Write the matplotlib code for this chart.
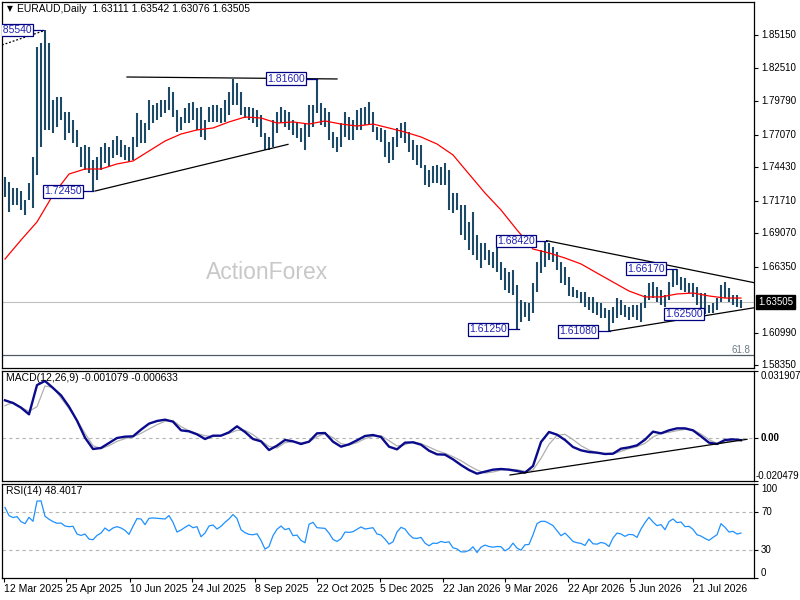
import numpy as np
import matplotlib
matplotlib.use("Agg")
import matplotlib.pyplot as plt
from matplotlib.transforms import blended_transform_factory as blend

plt.rcParams['font.family'] = ['Liberation Sans', 'DejaVu Sans']

# ---- data (one bar = two trading days) ----
symbol = "EURAUD,Daily"
ohlc_last = [1.63111, 1.63542, 1.63076, 1.63505]

bar_high = [
    1.7362, 1.7321, 1.7273, 1.7273, 1.7248, 1.7175, 1.7313, 1.7524, 1.8418, 1.8450,
    1.8554, 1.8450, 1.7987, 1.8012, 1.8012, 1.7890, 1.7890, 1.7825, 1.7744, 1.7606,
    1.7622, 1.7606, 1.7500, 1.7524, 1.7606, 1.7638, 1.7606, 1.7662, 1.7695, 1.7662,
    1.7622, 1.7606, 1.7687, 1.7882, 1.7825, 1.7800, 1.7987, 1.7947, 1.7963, 1.7987,
    1.7987, 1.8093, 1.8052, 1.7906, 1.7849, 1.7922, 1.7963, 1.7971, 1.7922, 1.7930,
    1.7825, 1.7930, 1.7947, 1.7947, 1.7922, 1.7987, 1.8052, 1.8160, 1.8125, 1.8052,
    1.7930, 1.7930, 1.7922, 1.7906, 1.7865, 1.7719, 1.7687, 1.7825, 1.7890, 1.7930,
    1.7906, 1.7890, 1.7825, 1.7800, 1.7760, 1.7800, 1.7947, 1.7947, 1.8160, 1.7963,
    1.7922, 1.7890, 1.7727, 1.7687, 1.7800, 1.7890, 1.7849, 1.7825, 1.7906, 1.7922,
    1.7930, 1.7971, 1.7890, 1.7768, 1.7760, 1.7744, 1.7646, 1.7687, 1.7760, 1.7800,
    1.7809, 1.7727, 1.7662, 1.7622, 1.7622, 1.7459, 1.7419, 1.7451, 1.7459, 1.7443,
    1.7476, 1.7419, 1.7232, 1.7232, 1.7135, 1.7135, 1.6997, 1.7078, 1.6891, 1.6826,
    1.6826, 1.6769, 1.6753, 1.6785, 1.6672, 1.6623, 1.6591, 1.6607, 1.6485, 1.6363,
    1.6347, 1.6339, 1.6501, 1.6672, 1.6769, 1.6842, 1.6826, 1.6794, 1.6753, 1.6672,
    1.6631, 1.6550, 1.6469, 1.6444, 1.6428, 1.6428, 1.6388, 1.6388, 1.6347, 1.6339,
    1.6298, 1.6282, 1.6306, 1.6379, 1.6363, 1.6323, 1.6306, 1.6323, 1.6323, 1.6339,
    1.6404, 1.6501, 1.6509, 1.6469, 1.6444, 1.6404, 1.6509, 1.6607, 1.6617, 1.6550,
    1.6542, 1.6501, 1.6501, 1.6469, 1.6420, 1.6420, 1.6323, 1.6339, 1.6379, 1.6485,
    1.6509, 1.6461, 1.6404, 1.6404, 1.6363,
]
bar_low = [
    1.7200, 1.7078, 1.7135, 1.7135, 1.7094, 1.7053, 1.7175, 1.7110, 1.7378, 1.7606,
    1.7744, 1.7744, 1.7719, 1.7768, 1.7825, 1.7662, 1.7719, 1.7638, 1.7606, 1.7443,
    1.7419, 1.7394, 1.7245, 1.7338, 1.7419, 1.7476, 1.7443, 1.7516, 1.7541, 1.7524,
    1.7500, 1.7484, 1.7500, 1.7606, 1.7638, 1.7638, 1.7744, 1.7800, 1.7825, 1.7849,
    1.7882, 1.7906, 1.7849, 1.7727, 1.7744, 1.7800, 1.7800, 1.7825, 1.7744, 1.7687,
    1.7662, 1.7809, 1.7809, 1.7809, 1.7800, 1.7809, 1.7865, 1.7947, 1.7947, 1.7865,
    1.7841, 1.7825, 1.7800, 1.7768, 1.7687, 1.7581, 1.7581, 1.7606, 1.7719, 1.7800,
    1.7768, 1.7744, 1.7703, 1.7679, 1.7646, 1.7581, 1.7687, 1.7768, 1.7882, 1.7784,
    1.7768, 1.7662, 1.7597, 1.7565, 1.7606, 1.7687, 1.7662, 1.7662, 1.7744, 1.7744,
    1.7784, 1.7784, 1.7727, 1.7662, 1.7646, 1.7524, 1.7476, 1.7500, 1.7606, 1.7679,
    1.7638, 1.7565, 1.7500, 1.7459, 1.7435, 1.7297, 1.7281, 1.7313, 1.7313, 1.7297,
    1.7297, 1.7094, 1.7070, 1.7094, 1.6891, 1.6850, 1.6769, 1.6729, 1.6688, 1.6623,
    1.6688, 1.6647, 1.6623, 1.6591, 1.6526, 1.6444, 1.6420, 1.6404, 1.6125, 1.6185,
    1.6225, 1.6193, 1.6258, 1.6428, 1.6582, 1.6631, 1.6688, 1.6672, 1.6607, 1.6501,
    1.6485, 1.6396, 1.6388, 1.6379, 1.6339, 1.6306, 1.6282, 1.6258, 1.6241, 1.6217,
    1.6217, 1.6108, 1.6176, 1.6217, 1.6241, 1.6225, 1.6201, 1.6225, 1.6201, 1.6185,
    1.6298, 1.6363, 1.6379, 1.6347, 1.6323, 1.6306, 1.6363, 1.6469, 1.6485, 1.6444,
    1.6428, 1.6420, 1.6388, 1.6323, 1.6298, 1.6250, 1.6258, 1.6258, 1.6282, 1.6347,
    1.6379, 1.6347, 1.6323, 1.6306, 1.6298,
]
# moving average, one value every 4 bars
ma_line = [
    1.6696, 1.6850, 1.6997, 1.7216, 1.7386, 1.7427, 1.7427, 1.7468, 1.7492, 1.7573,
    1.7654, 1.7711, 1.7744, 1.7760, 1.7809, 1.7849, 1.7841, 1.7800, 1.7809, 1.7792,
    1.7817, 1.7792, 1.7776, 1.7792, 1.7760, 1.7727, 1.7687, 1.7630, 1.7541, 1.7386,
    1.7232, 1.7094, 1.6932, 1.6777, 1.6745, 1.6704, 1.6656, 1.6582, 1.6509, 1.6436,
    1.6388, 1.6388, 1.6412, 1.6420, 1.6396, 1.6379, 1.6379,
]
# MACD(12,26,9), one value every 2 bars, in units of 1e-3
macd_main = np.array([
    17.94, 16.67, 14.45, 11.27, 25.20, 27.15, 23.81, 20.32, 14.92, 8.26,
    0.16, -5.24, -4.76, -2.38, 0.00, 0.64, 0.79, 3.97, 6.83, 8.10,
    8.73, 7.78, 3.65, 3.18, 1.75, -0.48, 1.11, 1.11, 2.70, 5.56,
    2.86, -0.48, -1.59, -5.72, -3.65, -0.95, -1.59, -2.86, -1.75, 2.22,
    2.38, -1.75, -4.13, -3.02, -1.11, 0.95, 1.43, 0.48, -4.13, -5.40,
    -2.22, -2.06, -3.18, -6.03, -7.78, -7.94, -10.16, -12.86, -15.24, -16.99,
    -16.03, -15.08, -14.76, -15.08, -15.72, -16.51, -13.34, -1.91, 2.86, 1.59,
    -0.95, -4.29, -5.87, -6.67, -6.99, -7.62, -7.46, -5.08, -4.45, -3.49,
    -0.79, 3.02, 2.22, 3.65, 4.60, 4.60, 3.65, 0.79, -2.22, -2.86,
    -0.95, -0.64, -1.08,
]) / 1000
macd_signal = np.array([
    15.40, 16.99, 14.61, 12.70, 14.92, 24.77, 24.13, 19.05, 13.97, 8.57,
    2.22, -3.65, -5.08, -3.65, -1.59, -0.32, 0.64, 2.22, 4.29, 6.35,
    7.94, 8.26, 5.40, 3.49, 2.06, 1.11, 0.64, 1.11, 2.22, 3.65,
    3.65, 1.59, -1.27, -3.97, -4.76, -2.22, -1.75, -2.22, -1.91, 0.64,
    2.06, 0.16, -2.70, -3.33, -2.22, -0.32, 0.79, 1.11, -1.27, -3.81,
    -3.18, -1.75, -2.70, -4.29, -6.03, -7.30, -8.89, -10.80, -13.18, -15.24,
    -16.67, -16.19, -15.24, -14.92, -15.08, -15.88, -15.24, -9.68, -3.02, 1.27,
    1.75, -0.79, -3.65, -5.72, -6.99, -7.62, -7.62, -6.35, -5.08, -4.13,
    -2.54, 0.48, 2.22, 2.70, 3.49, 4.13, 3.81, 1.91, -0.79, -2.54,
    -2.06, -0.95, -0.63,
]) / 1000
macd_range = (-0.020479, 0.031907)
macd_now = (-0.001079, -0.000633)

rsi_line = [
    75.0, 66.4, 64.3, 65.3, 60.0, 57.8, 64.6, 60.3, 81.8, 82.1,
    65.7, 62.5, 60.0, 58.2, 58.5, 55.3, 54.6, 55.0, 46.8, 45.3,
    46.8, 41.4, 40.7, 45.3, 47.8, 53.2, 50.0, 53.2, 54.6, 53.2,
    50.7, 46.4, 55.0, 63.2, 62.8, 56.8, 63.5, 63.9, 63.5, 63.2,
    62.8, 66.4, 59.3, 48.9, 51.0, 53.9, 56.4, 53.5, 54.6, 43.9,
    47.8, 55.3, 56.4, 52.1, 55.0, 59.3, 62.8, 67.5, 63.2, 51.4,
    48.2, 46.4, 46.0, 47.1, 40.0, 30.7, 33.5, 45.0, 51.8, 55.3,
    51.4, 52.8, 45.0, 45.7, 40.0, 37.5, 57.1, 59.3, 53.5, 53.2,
    52.8, 47.8, 41.0, 38.9, 41.8, 48.9, 48.5, 49.3, 51.8, 54.3,
    52.1, 52.8, 53.5, 46.8, 45.7, 41.4, 36.0, 38.5, 48.9, 53.9,
    52.1, 46.4, 42.5, 42.1, 43.2, 37.1, 34.3, 37.1, 36.8, 38.9,
    37.8, 38.5, 32.1, 31.0, 27.8, 27.8, 29.3, 33.2, 27.1, 32.8,
    35.0, 33.5, 32.8, 33.5, 33.2, 28.9, 31.4, 37.1, 31.8, 29.6,
    35.3, 35.7, 46.0, 57.8, 60.3, 60.3, 58.2, 55.7, 50.3, 45.0,
    47.8, 43.5, 38.9, 37.5, 36.8, 34.6, 41.4, 36.4, 36.0, 37.8,
    36.8, 33.5, 42.5, 47.8, 46.8, 44.3, 46.4, 46.0, 43.2, 52.1,
    58.9, 64.6, 59.6, 55.7, 56.8, 51.4, 60.0, 62.8, 58.9, 59.6,
    54.6, 55.0, 51.8, 46.0, 44.6, 42.1, 40.0, 43.2, 46.0, 57.8,
    53.9, 48.9, 49.6, 46.8, 47.8,
]
rsi_now = 48.4017

price_ticks = [1.85150, 1.82510, 1.79790, 1.77070, 1.74430, 1.71710,
               1.69070, 1.66350, 1.60990, 1.58350]
date_labels = ['12 Mar 2025', '25 Apr 2025', '10 Jun 2025', '24 Jul 2025',
               '8 Sep 2025', '22 Oct 2025', '5 Dec 2025', '22 Jan 2026',
               '9 Mar 2026', '22 Apr 2026', '5 Jun 2026', '21 Jul 2026']
date_bars = [-0.25, 15.25, 31.25, 46.75, 62.5, 78.0, 93.75, 109.5,
             125.0, 140.75, 156.25, 171.9]

# swing labels: level and the bar where it was set
swing_levels = [1.85540, 1.72450, 1.81600, 1.68420, 1.61250, 1.61080, 1.66170, 1.62500]
swing_bars = [9.5, 22.0, 78.0, 135.5, 128.5, 151.25, 167.75, 175.0]
swing_gap = [2.3, 2.3, 2.5, 2.5, 2.5, 2.75, 2.3, 0.1]

# drawn lines (bar0, price0, bar1, price1)
trend_lines = [
    (22.5, 1.7248, 70.75, 1.7627),
    (30.5, 1.8174, 83.0, 1.8158),
    (135.4, 1.6845, 187.25, 1.6504),
    (151.25, 1.6111, 187.25, 1.6300),
]
dotted_line = (-0.75, 1.8434, 9.5, 1.8547)
macd_trend = (126.25, -0.01762, 185.5, -0.00062)
fib_level = 1.5917

# ---- figure ----
W, H = 800, 600
fig = plt.figure(figsize=(8, 6), dpi=100)
fig.patch.set_facecolor('white')

def panel(top, bottom):
    return fig.add_axes([2 / W, 1 - bottom / H, 752 / W, (bottom - top) / H])

ax = panel(2, 368)
ax_m = panel(371, 481)
ax_r = panel(484, 578)

xlim = (-0.75, 187.25)
for a in (ax, ax_m, ax_r):
    a.set_xlim(*xlim)
    for s in a.spines.values():
        s.set_linewidth(0.9)
        s.set_color('black')
    a.yaxis.tick_right()
    a.tick_params(axis='y', length=3, width=0.8, labelright=False, labelleft=False)
    a.tick_params(axis='x', length=0, labelbottom=False)

lab_font = 7
right_x = 1 + 7 / 752

# price panel
ax.set_ylim(1.58110, 1.87830)
ax.set_yticks(price_ticks)
tr = blend(ax.transAxes, ax.transData)
for v in price_ticks:
    ax.text(right_x, v, f"{v:.5f}", transform=tr, va='center', ha='left',
            fontsize=lab_font, clip_on=False)

ax.text(0.352, 0.26, 'ActionForex', transform=ax.transAxes, ha='center', va='center',
        fontsize=16.5, color='#c8c8c8', zorder=0)

ax.axhline(ohlc_last[3], color='#c0c0c0', lw=0.8, zorder=1)
ax.axhline(fib_level, color='#4f5b66', lw=0.9, zorder=1)
ax.text(0.995, fib_level, '61.8', transform=tr, ha='right', va='bottom',
        fontsize=7, color='#6b7b86')

x_bars = np.arange(len(bar_high))
ax.vlines(x_bars, bar_low, bar_high, color='#1c4966', lw=1.5, zorder=2)
ax.plot(np.arange(len(ma_line)) * 4, ma_line, color='#ff0000', lw=0.9, zorder=3)

for x0, y0, x1, y1 in trend_lines:
    ax.plot([x0, x1], [y0, y1], color='black', lw=0.9, zorder=4)
ax.plot(dotted_line[::2], dotted_line[1::2], color='black', lw=0.9, ls=(0, (1.5, 1.5)), zorder=4)

for lvl, b, gap in zip(swing_levels, swing_bars, swing_gap):
    right = b - gap
    if gap > 0.5:
        ax.plot([right, b], [lvl, lvl], color='#000080', lw=0.9, zorder=5)
    ax.text(right - 0.45, lvl, f"{lvl:.5f}", ha='right', va='center', fontsize=7.5,
            color='#2222b4', zorder=6, clip_on=True,
            bbox=dict(boxstyle='square,pad=0.12', fc='white', ec='#000080', lw=0.9))

ax.text(right_x - 0.004, ohlc_last[3], f"{ohlc_last[3]:.5f}", transform=tr,
        ha='left', va='center', fontsize=lab_font, color='white', clip_on=False,
        bbox=dict(boxstyle='square,pad=0.2', fc='black', ec='black'))

fig.text(7 / W, 1 - 9 / H, '\u25bc', fontsize=5.5, va='center', ha='left',
         family=['DejaVu Sans'])
fig.text(17 / W, 1 - 9 / H,
         f"{symbol}  " + " ".join(f"{v:.5f}" for v in ohlc_last),
         fontsize=7.5, va='center', ha='left')

# MACD panel
ax_m.set_ylim(*macd_range)
ax_m.set_yticks([macd_range[1], 0, macd_range[0]])
ax_m.axhline(0, color='#b4b4b4', lw=0.8, ls=(0, (3, 3)))
x_m = np.arange(len(macd_main)) * 2
ax_m.plot(x_m, macd_signal, color='#b0b0b0', lw=0.9)
ax_m.plot(x_m, macd_main, color='#0a0a8c', lw=1.7)
ax_m.plot(macd_trend[::2], macd_trend[1::2], color='black', lw=0.9)
ax_m.text(4 / 752, 1 - 7 / 110, f"MACD(12,26,9) {macd_now[0]:.6f} {macd_now[1]:.6f}",
          transform=ax_m.transAxes, fontsize=7.5, va='center', ha='left')
trm = blend(ax_m.transAxes, ax_m.transData)
ax_m.text(right_x, macd_range[1], f"{macd_range[1]:.6f}", transform=trm,
          va='top', ha='left', fontsize=lab_font, clip_on=False)
ax_m.text(right_x, 0, "0.00", transform=trm, va='center', ha='left',
          fontsize=lab_font, fontweight='bold', clip_on=False)
ax_m.text(right_x - 5 / 752, macd_range[0], f"{macd_range[0]:.6f}", transform=trm,
          va='bottom', ha='left', fontsize=lab_font, clip_on=False)

# RSI panel
ax_r.set_ylim(0, 100)
ax_r.set_yticks([100, 70, 30, 0])
for lvl in (70, 30):
    ax_r.axhline(lvl, color='#b4b4b4', lw=0.8, ls=(0, (3, 3)))
ax_r.plot(np.arange(len(rsi_line)), rsi_line, color='#1e90ff', lw=0.9)
ax_r.text(4 / 752, 1 - 7 / 94, f"RSI(14) {rsi_now:.4f}", transform=ax_r.transAxes,
          fontsize=7.5, va='center', ha='left')
trr = blend(ax_r.transAxes, ax_r.transData)
for v, va in ((100, 'top'), (70, 'center'), (30, 'center'), (0, 'bottom')):
    ax_r.text(right_x, v, str(v), transform=trr, va=va, ha='left',
              fontsize=lab_font, clip_on=False)

ax_r.set_xticks(date_bars)
ax_r.tick_params(axis='x', length=3, width=0.8, direction='out')
trd = blend(ax_r.transData, ax_r.transAxes)
for b, lab in zip(date_bars, date_labels):
    ax_r.text(b, -11 / 94, lab, transform=trd, ha='left', va='center',
              fontsize=7.5, clip_on=False)

fig.savefig('out.png', dpi=100, facecolor='white')
